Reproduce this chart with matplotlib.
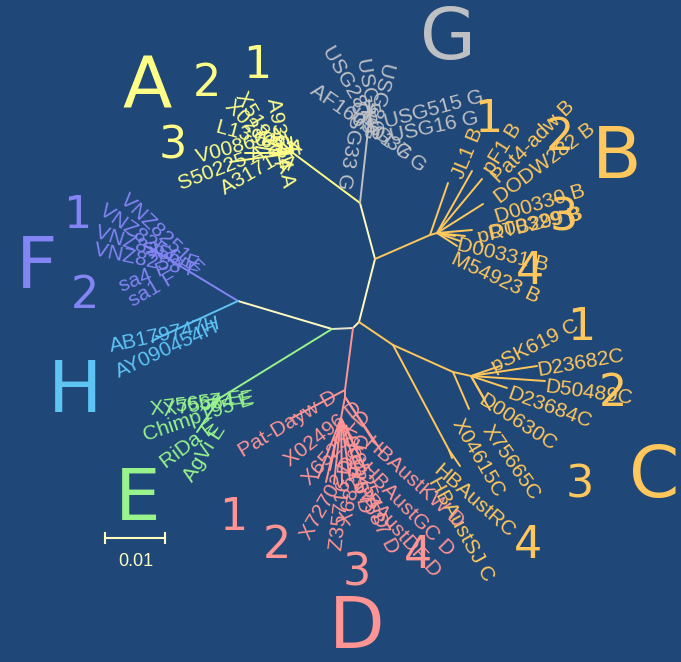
import matplotlib
matplotlib.use("Agg")
import matplotlib.pyplot as plt

# unrooted HBV genotype tree, layout coordinates (scale bar 0.01 = 60 units)
node_name = ["c0", "eh", "fh", "c1", "bag", "ag", "a", "g", "b", "b2",
             "c", "c2", "c3", "c4", "d", "d2", "d3", "e", "f", "h"]
node_parent = [None, "c0", "eh", "c0", "c1", "bag", "ag", "ag", "bag", "b",
               "c1", "c", "c2", "c", "c0", "d", "d2", "eh", "fh", "fh"]
node_x = [0, -21, -115, 6, 22, 7, -60, 17, 77, 84,
          40, 100, 118, 96, -8, -8, -12, -133, -196, -193]
node_y = [0, -1, 27, 6, 69, 125, 175, 216, 93, 95,
          -17, -44, -48, -122, -62, -69, -90, -70, 76, -9]
node_clade = ["core", "stem", "core", "core", "core", "core", "A", "G", "B", "B",
              "C", "C", "C", "C", "D", "D", "D", "E", "F", "H"]

leaf_label = [
    "X02763 A", "X51970 A", "A93654 A", "L13994 A", "V00866 A", "S50225 A", "A31717 A",
    "USG28 G", "USG5 G", "USG8 G", "AF160501 G", "USG515 G", "USG16 G", "USG37 G", "USG33 G",
    "JL1 B", "pF1 B", "Pat4-adw B", "DODW282 B", "D00330 B", "pRTB299 B", "D00329 B",
    "D00331 B", "M54923 B",
    "pSK619 C", "D23682C", "D50489C", "D23684C", "D00630C", "X75665C", "X04615C",
    "HBAustRC", "HBAustSJ C",
    "Pat-Dayw D", "X02496 D", "X65257 D", "X72702 D", "Z35716 D", "X68292 D",
    "X85254 D", "X80925 D", "HBAustKW D", "HBAustGC D", "HBAustDF D", "Y07587 D",
    "X75657 E", "X75664 E", "Chimp195 E", "RiDa E", "AgVi E",
    "VNZ8251 F", "VNZ8254 F", "VNZ8256 F", "VNZ8258 F", "sa4 F", "sa1 F",
    "AB179747H", "AY090454H",
]
leaf_parent = (["a"] * 7 + ["g"] * 8 + ["b"] + ["b2"] * 8 +
               ["c3"] * 6 + ["c2"] + ["c4"] * 2 +
               ["d"] + ["d3"] * 7 + ["d2"] * 2 + ["d3"] * 2 +
               ["e"] * 5 + ["f"] * 6 + ["h"] * 2)
leaf_x = [-123, -108, -97, -87, -77, -68, -62,
          12, 16, 20, 9, 22, 18, 13, 15,
          95, 119, 129, 130, 119, 102, 112, 107, 104,
          147, 184, 192, 154, 137, 132, 116, 107, 99,
          -63, -35, -27, -19, -11, -3, 5, 13, 21, 29, -23, 9,
          -156, -148, -141, -145, -139,
          -203, -206, -201, -193, -208, -198,
          -201, -197]
leaf_y = [166, 175, 181, 187, 191, 194, 191,
          225, 228, 224, 216, 216, 206, 208, 220,
          145, 157, 149, 124, 98, 92, 92, 87, 82,
          -38, -38, -53, -60, -82, -72, -81, -138, -130,
          -91, -150, -154, -156, -156, -152, -148, -142, -114, -124, -142, -134,
          -104, -82, -75, -72, -78,
          81, 76, 70, 72, 82, 84,
          -13, -8]
leaf_clade = [s.split()[-1][-1] if s[-2] == " " else s[-1] for s in leaf_label]

# label placement (start point and angle of each tip label)
label_pos = [
    (-125, 225, -45), (-113, 235, -60), (-81, 230, -80), (-137, 201, -15),
    (-156, 170, 15), (-174, 143, 21), (-131, 138, 30),
    (-26, 281, -60), (9, 270, -80), (35, 266, -105), (-41, 240, -35),
    (32, 205, 15), (37, 191, 12), (-1, 215, -38), (5, 228, -100),
    (105, 150, 68), (135, 156, 58), (142, 148, 45), (144, 128, 37),
    (142, 110, 17), (125, 90, 13), (137, 94, 12), (104, 83, -13), (99, 70, -25),
    (140, -40, 27), (184, -43, 10), (192, -59, -8), (155, -65, -20),
    (127, -70, -33), (133, -99, -55), (103, -92, -60), (83, -140, -41), (80, -150, -61),
    (-113, -125, 31), (-66, -135, 38), (-47, -154, 48), (-48, -210, 60),
    (-16, -222, 83), (-7, -197, 78), (-3, -112, -70), (-8, -94, -78),
    (15, -112, -42), (11, -138, -45), (4, -157, -48), (-3, -142, -62),
    (-203, -82, 7), (-190, -83, 8), (-209, -108, 19), (-190, -137, 37), (-165, -152, 58),
    (-230, 131, -44), (-252, 120, -35), (-257, 96, -18), (-259, 78, -12),
    (-233, 41, 22), (-223, 26, 30),
    (-243, -19, 12), (-236, -45, 25),
]

genotype = ["A", "G", "B", "C", "D", "E", "F", "H"]
genotype_pos = [(-206, 240), (95, 288), (264, 170), (301, -150),
                (4, -300), (-215, -172), (-316, 60), (-278, -64)]
subgroup = ["A1", "A2", "A3", "B1", "B2", "B3", "B4", "C1", "C2", "C3", "C4",
            "D1", "D2", "D3", "D4", "F1", "F2"]
subgroup_pos = [(-96, 262), (-146, 244), (-180, 182),
                (135, 208), (207, 190), (211, 110), (177, 56),
                (228, 0), (260, -65), (227, -157), (175, -217),
                (-120, -190), (-76, -217), (4, -245), (65, -227),
                (-276, 113), (-268, 33)]

colors = {"core": "#fffcc0", "stem": "#e6e4cc", "A": "#ffff88", "G": "#bfc0c4",
          "B": "#ffc75c", "C": "#ffc75c", "D": "#ff9494", "E": "#98f38c",
          "F": "#8484f4", "H": "#5ec4f4"}
bg = "#1f4778"

fig = plt.figure(figsize=(6.81, 6.62), dpi=100)
fig.patch.set_facecolor(bg)
ax = fig.add_axes([0, 0, 1, 1])
ax.set_facecolor(bg)
ax.set_xlim(-353, 328)
ax.set_ylim(-334, 328)
ax.axis("off")

pos = dict(zip(node_name, zip(node_x, node_y)))
for name, par, x, y, cl in zip(node_name, node_parent, node_x, node_y, node_clade):
    if par is None:
        continue
    px, py = pos[par]
    ax.plot([px, x], [py, y], color=colors[cl], lw=1.4, solid_capstyle="round")

for par, x, y, cl in zip(leaf_parent, leaf_x, leaf_y, leaf_clade):
    px, py = pos[par]
    ax.plot([px, x], [py, y], color=colors[cl], lw=1.4, solid_capstyle="round")

for txt, cl, (lx, ly, rot) in zip(leaf_label, leaf_clade, label_pos):
    ax.text(lx, ly, txt, color=colors[cl], fontsize=15, family="Liberation Sans",
            rotation=rot, rotation_mode="anchor", ha="left", va="center")

for g, (gx, gy) in zip(genotype, genotype_pos):
    ax.text(gx, gy, g, color=colors[g], fontsize=52, ha="center", va="center")

for s, (sx, sy) in zip(subgroup, subgroup_pos):
    ax.text(sx, sy, s[1], color=colors[s[0]], fontsize=32, ha="center", va="center")

# scale bar
ax.plot([-248, -188], [-210, -210], color=colors["core"], lw=1.5)
ax.plot([-248, -248], [-205, -215], color=colors["core"], lw=1.5)
ax.plot([-188, -188], [-205, -215], color=colors["core"], lw=1.5)
ax.text(-217, -233, "0.01", color=colors["core"], fontsize=13,
        family="Liberation Sans", ha="center", va="center")

fig.savefig("out.png", dpi=100, facecolor=bg)
